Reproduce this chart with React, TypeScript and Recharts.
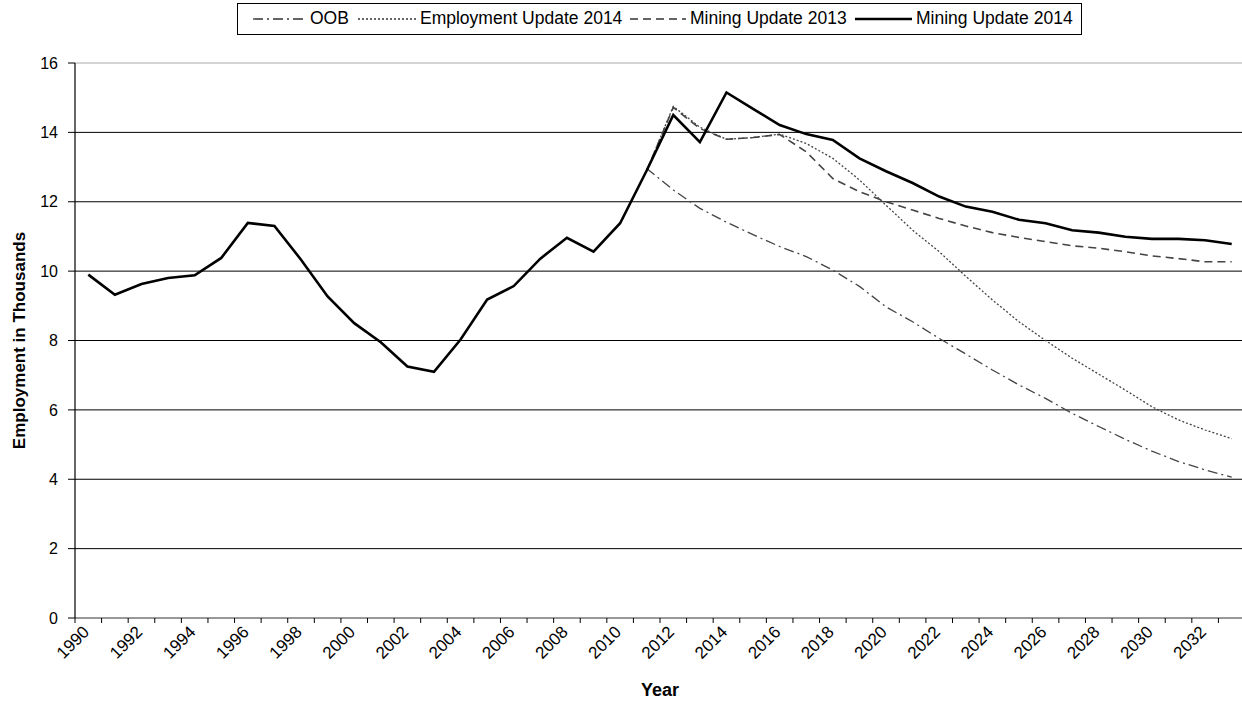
import React from 'react';
import {
  CartesianGrid,
  Label,
  Line,
  LineChart,
  ReferenceLine,
  XAxis,
  YAxis,
} from 'recharts';

const years = Array.from({ length: 44 }, (_, i) => 1990 + i);

// history + Mining Update 2014, 1990-2033
const mining2014 = [
  9.9, 9.32, 9.63, 9.8, 9.88, 10.38, 11.39, 11.3, 10.33, 9.27,
  8.5, 7.95, 7.25, 7.1, 8.03, 9.18, 9.57, 10.36, 10.96, 10.56,
  11.38, 12.9, 14.5, 13.72, 15.15, 14.68, 14.21, 13.95, 13.78, 13.25,
  12.88, 12.54, 12.15, 11.86, 11.71, 11.48, 11.38, 11.18, 11.11, 10.99,
  10.93, 10.93, 10.89, 10.78,
];

// projections start in 2011
const projStart = 2011;
const oob = [
  12.96, 12.34, 11.81, 11.41, 11.05, 10.71, 10.42, 10.03, 9.56, 8.97,
  8.54, 8.06, 7.61, 7.15, 6.72, 6.33, 5.9, 5.52, 5.15, 4.81,
  4.51, 4.27, 4.06,
];
const employment2014 = [
  12.9, 14.75, 14.15, 13.8, 13.85, 13.95, 13.68, 13.25, 12.63, 11.9,
  11.18, 10.56, 9.85, 9.17, 8.54, 8.0, 7.49, 7.03, 6.57, 6.09,
  5.71, 5.42, 5.17,
];
const mining2013 = [
  12.9, 14.72, 14.11, 13.8, 13.85, 13.94, 13.44, 12.67, 12.29, 12.0,
  11.76, 11.52, 11.3, 11.11, 10.97, 10.85, 10.73, 10.66, 10.56, 10.44,
  10.36, 10.27, 10.27,
];

const yTicks = [0, 2, 4, 6, 8, 10, 12, 14, 16];

const proj = (arr: number[], year: number) =>
  year >= projStart ? arr[year - projStart] : null;

const data = years.map((year, i) => ({
  year,
  oob: proj(oob, year),
  employment2014: proj(employment2014, year),
  mining2013: proj(mining2013, year),
  mining2014: mining2014[i],
}));

const FONT = '"Liberation Sans", Arial, sans-serif';
const CHART_W = 1245;
const PLOT_LEFT = 75;
const HALF_BAND = (CHART_W - PLOT_LEFT) / years.length / 2;

function YearTick(props: any) {
  const { x, y, payload } = props;
  const yr = Number(payload.value);
  return (
    <g transform={`translate(${x},${y})`}>
      <line x1={-HALF_BAND} x2={-HALF_BAND} y1={0} y2={5} stroke="#000" />
      {yr % 2 === 0 && (
        <text
          x={2}
          y={15}
          transform="rotate(-45, 2, 15)"
          textAnchor="end"
          fontSize={17}
          fontFamily={FONT}
          fill="#000"
        >
          {yr}
        </text>
      )}
    </g>
  );
}

const legendItems = [
  { name: 'OOB', dash: '10 4 2 4', width: 1.3, color: '#333', line: 253, text: 310 },
  { name: 'Employment Update 2014', dash: '2 2', width: 1.3, color: '#333', line: 358, text: 420 },
  { name: 'Mining Update 2013', dash: '8 5', width: 1.6, color: '#333', line: 630, text: 690 },
  { name: 'Mining Update 2014', dash: undefined, width: 2.6, color: '#000', line: 855, text: 916 },
];

function ChartLegend() {
  const left = 237;
  return (
    <div
      style={{
        position: 'absolute',
        left,
        top: 3,
        width: 845,
        height: 32,
        boxSizing: 'border-box',
        border: '1px solid #000',
        fontFamily: FONT,
        fontSize: 17.5,
        color: '#000',
        background: '#fff',
      }}
    >
      {legendItems.map((it) => (
        <React.Fragment key={it.name}>
          <svg
            width={it.text - it.line - 4}
            height={10}
            style={{ position: 'absolute', left: it.line - left - 1, top: 10 }}
          >
            <line
              x1={0}
              x2={it.text - it.line - 4}
              y1={5}
              y2={5}
              stroke={it.color}
              strokeWidth={it.width}
              strokeDasharray={it.dash}
            />
          </svg>
          <span
            style={{
              position: 'absolute',
              left: it.text - left - 1,
              top: 4,
              whiteSpace: 'nowrap',
              lineHeight: '20px',
            }}
          >
            {it.name}
          </span>
        </React.Fragment>
      ))}
    </div>
  );
}

export default function App() {
  return (
    <div
      style={{
        position: 'absolute',
        left: 0,
        top: 0,
        width: 1242,
        height: 704,
        overflow: 'hidden',
        background: '#fff',
      }}
    >
      <LineChart
        width={CHART_W}
        height={704}
        data={data}
        margin={{ top: 63, right: 0, bottom: 0, left: 0 }}
      >
        <CartesianGrid
          vertical={false}
          horizontalValues={[2, 4, 6, 8, 10, 12, 14]}
          stroke="#000"
          strokeWidth={1}
        />
        <ReferenceLine y={16} stroke="#aaa" strokeWidth={1} />
        <XAxis
          dataKey="year"
          type="category"
          interval={0}
          height={86}
          padding={{ left: HALF_BAND, right: HALF_BAND }}
          axisLine={{ stroke: '#333', strokeWidth: 1.2 }}
          tickLine={false}
          tickSize={0}
          tickMargin={0}
          tick={<YearTick />}
        >
          <Label
            value="Year"
            position="insideBottom"
            offset={8}
            style={{ fontFamily: FONT, fontSize: 18, fontWeight: 'bold', fill: '#000' }}
          />
        </XAxis>
        <YAxis
          width={75}
          domain={[0, 16]}
          ticks={yTicks}
          interval={0}
          axisLine={{ stroke: '#000', strokeWidth: 1.2 }}
          tickLine={{ stroke: '#000' }}
          tickSize={7}
          tickMargin={10}
          tick={{ fontFamily: FONT, fontSize: 16, fill: '#000' }}
        >
          <Label
            value="Employment in Thousands"
            angle={-90}
            position="center"
            dx={-19}
            style={{ fontFamily: FONT, fontSize: 17, fontWeight: 'bold', fill: '#000', textAnchor: 'middle' }}
          />
        </YAxis>
        <Line
          dataKey="oob"
          name="OOB"
          stroke="#444"
          strokeWidth={1.3}
          strokeDasharray="10 4 2 4"
          dot={false}
          activeDot={false}
          isAnimationActive={false}
        />
        <Line
          dataKey="employment2014"
          name="Employment Update 2014"
          stroke="#444"
          strokeWidth={1.3}
          strokeDasharray="2 2"
          dot={false}
          activeDot={false}
          isAnimationActive={false}
        />
        <Line
          dataKey="mining2013"
          name="Mining Update 2013"
          stroke="#444"
          strokeWidth={1.6}
          strokeDasharray="8 5"
          dot={false}
          activeDot={false}
          isAnimationActive={false}
        />
        <Line
          dataKey="mining2014"
          name="Mining Update 2014"
          stroke="#000"
          strokeWidth={2.6}
          dot={false}
          activeDot={false}
          isAnimationActive={false}
        />
      </LineChart>
      <ChartLegend />
    </div>
  );
}
